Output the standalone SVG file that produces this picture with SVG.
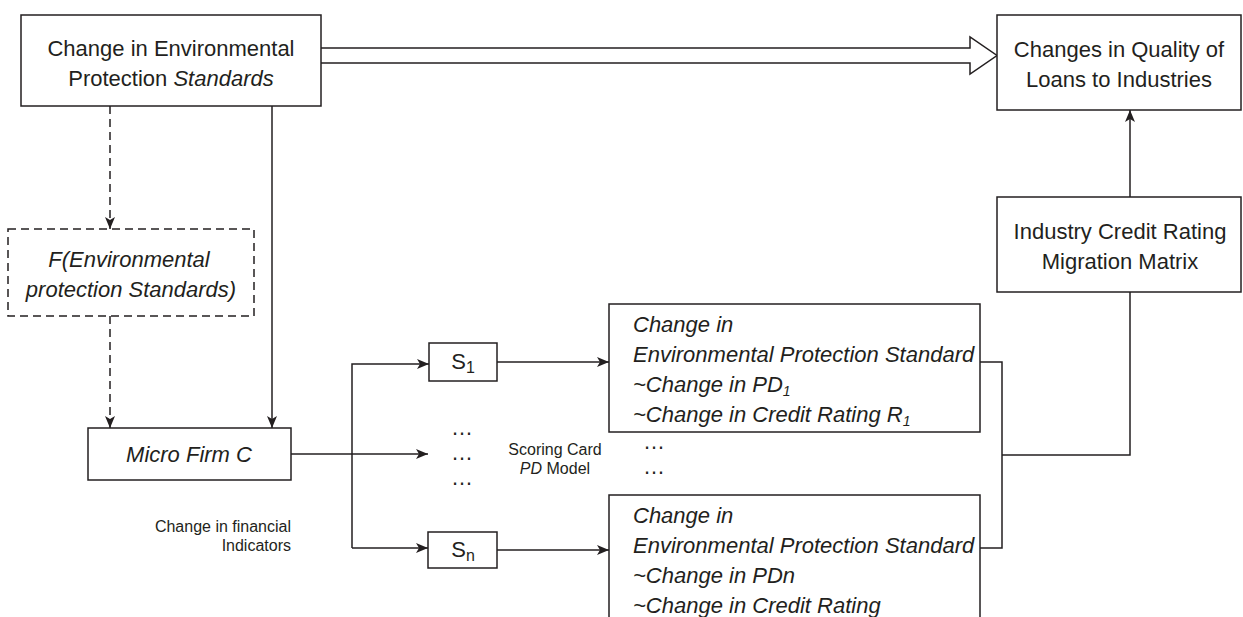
<svg xmlns="http://www.w3.org/2000/svg" width="1243" height="617" viewBox="0 0 1243 617">
<defs>
<marker id="ah" viewBox="0 0 12 10" markerWidth="12" markerHeight="10" refX="12" refY="5" orient="auto" markerUnits="userSpaceOnUse">
<path d="M0,0 L12,5 L0,10 L3,5 z" fill="#231f20"/>
</marker>
<style>
.box{fill:#fff;stroke:#231f20;stroke-width:1.5}
.dash{fill:none;stroke:#231f20;stroke-width:1.5;stroke-dasharray:8 5}
.ln{fill:none;stroke:#231f20;stroke-width:1.5}
.t{font-family:"Liberation Sans",Arial,sans-serif;font-size:22px;fill:#231f20}
.c{text-anchor:middle}
.i{font-style:italic}
.s{font-family:"Liberation Sans",Arial,sans-serif;font-size:16px;fill:#231f20}
</style>
</defs>
<rect width="1243" height="617" fill="#fff"/>
<g id="connectors">
<path class="ln" d="M321,48 H970 V37 L997,55.5 L970,74 V63 H321" fill="#fff"/>
<path class="dash" d="M110,106 V229" marker-end="url(#ah)"/>
<path class="dash" d="M110,316 V428" marker-end="url(#ah)"/>
<path class="ln" d="M272,106 V428" marker-end="url(#ah)"/>
<path class="ln" d="M291,454 H428" marker-end="url(#ah)"/>
<path class="ln" d="M352,548 V364 H429" marker-end="url(#ah)"/>
<path class="ln" d="M352,548 H428" marker-end="url(#ah)"/>
<path class="ln" d="M497,362 H609" marker-end="url(#ah)"/>
<path class="ln" d="M497,550 H609" marker-end="url(#ah)"/>
<path class="ln" d="M980,362 H1002 V548 H980"/>
<path class="ln" d="M1002,455 H1130 V292"/>
<path class="ln" d="M1130,197 V110" marker-end="url(#ah)"/>
</g>
<g id="env-standards">
<rect class="box" x="21" y="15" width="300" height="91"/>
<text class="t c" x="171" y="56">Change in Environmental</text>
<text class="t c" x="171" y="86">Protection <tspan class="i">Standards</tspan></text>
</g>
<g id="loan-quality">
<rect class="box" x="997" y="15" width="244" height="95"/>
<text class="t c" x="1119" y="57">Changes in Quality of</text>
<text class="t c" x="1119" y="87">Loans to Industries</text>
</g>
<g id="migration-matrix">
<rect class="box" x="997" y="197" width="244" height="95"/>
<text class="t c" x="1120" y="239">Industry Credit Rating</text>
<text class="t c" x="1120" y="269">Migration Matrix</text>
</g>
<g id="f-function">
<rect class="dash" x="8" y="229" width="246" height="87"/>
<text class="t c i" x="129" y="267">F(Environmental</text>
<text class="t c i" x="131" y="297">protection Standards)</text>
</g>
<g id="micro-firm">
<rect class="box" x="88" y="428" width="203" height="52"/>
<text class="t c i" x="189" y="462">Micro Firm C</text>
</g>
<g id="s1">
<rect class="box" x="429" y="343" width="68" height="38"/>
<text class="t c" x="463" y="369">S<tspan font-size="16" dy="4">1</tspan></text>
</g>
<g id="sn">
<rect class="box" x="428" y="532" width="69" height="36"/>
<text class="t c" x="463" y="557">S<tspan font-size="16" dy="4">n</tspan></text>
</g>
<g id="env-pd1">
<rect class="box" x="609" y="304" width="371" height="128"/>
<text class="t i" x="633" y="332">Change in</text>
<text class="t i" x="633" y="362">Environmental Protection Standard</text>
<text class="t i" x="633" y="392">~Change in PD<tspan font-size="14" dy="4">1</tspan></text>
<text class="t i" x="633" y="422">~Change in Credit Rating R<tspan font-size="14" dy="4">1</tspan></text>
</g>
<g id="env-pdn">
<rect class="box" x="609" y="495" width="371" height="150"/>
<text class="t i" x="633" y="523">Change in</text>
<text class="t i" x="633" y="553">Environmental Protection Standard</text>
<text class="t i" x="633" y="583">~Change in PDn</text>
<text class="t i" x="633" y="613">~Change in Credit Rating</text>
</g>
<g id="labels">
<text class="t" x="451" y="435">…</text>
<text class="t" x="451" y="460">…</text>
<text class="t" x="451" y="485">…</text>
<text class="t" x="643" y="449">…</text>
<text class="t" x="643" y="474">…</text>
<text class="s c" x="555" y="455">Scoring Card</text>
<text class="s c" x="555" y="474"><tspan font-style="italic">PD</tspan> Model</text>
<text class="s" x="291" y="532" text-anchor="end">Change in financial</text>
<text class="s" x="291" y="551" text-anchor="end">Indicators</text>
</g>
</svg>
